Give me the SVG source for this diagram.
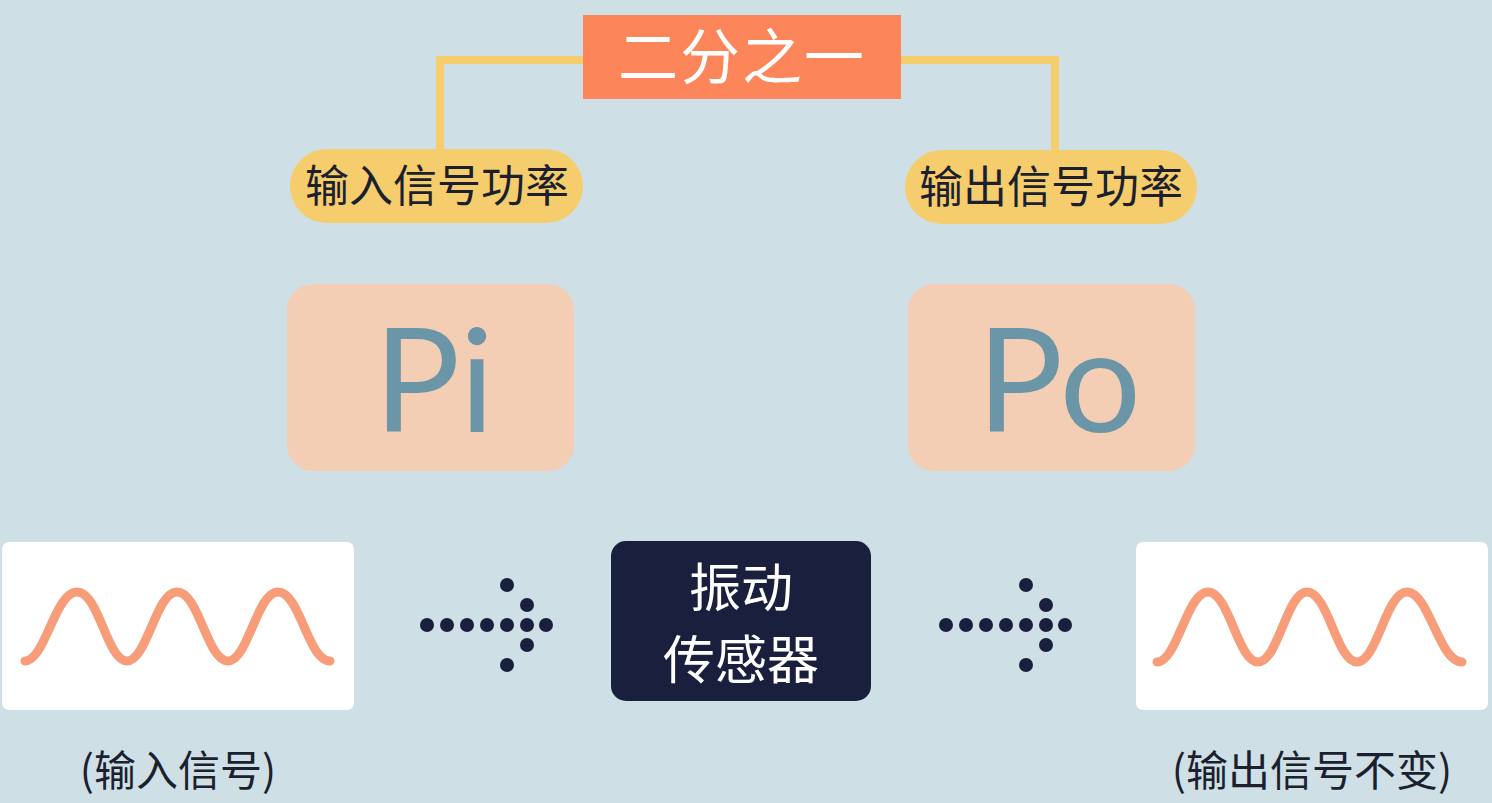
<svg xmlns="http://www.w3.org/2000/svg" width="1492" height="803" viewBox="0 0 1492 803">
<defs>
<style>
.cjk{font-family:"Noto Sans CJK SC","Noto Sans",sans-serif;}
.pill{fill:#f6cd6c;}
.pilltxt{font-size:44px;fill:#1b1f2e;text-anchor:middle;}
.pbox{fill:#f4cdb5;}
.ptxt{font-family:Lato,"Open Sans",sans-serif;font-size:144px;fill:#6b96a8;text-anchor:middle;}
.wbox{fill:#ffffff;}
.wave{fill:none;stroke:#f79d79;stroke-width:9;stroke-linecap:round;}
.dot{fill:#1a1f3d;}
.lbl{font-size:42px;fill:#1b1f2e;text-anchor:middle;}
.conn{fill:none;stroke:#f6cd6c;stroke-width:8;}
</style>
<g id="arrowdots">
<circle class="dot" cx="0" cy="0" r="7"/>
<circle class="dot" cx="20" cy="0" r="7"/>
<circle class="dot" cx="40" cy="0" r="7"/>
<circle class="dot" cx="60" cy="0" r="7"/>
<circle class="dot" cx="80" cy="0" r="7"/>
<circle class="dot" cx="100" cy="0" r="7"/>
<circle class="dot" cx="119" cy="0" r="7"/>
<circle class="dot" cx="80" cy="-40" r="7"/>
<circle class="dot" cx="100" cy="-20" r="7"/>
<circle class="dot" cx="100" cy="20" r="7"/>
<circle class="dot" cx="80" cy="40" r="7"/>
</g>
</defs>
<rect width="1492" height="803" fill="#cedfe6"/>
<g id="connectors">
<polyline class="conn" points="585,60 440,60 440,150"/>
<polyline class="conn" points="899,60 1055,60 1055,152"/>
<use href="#arrowdots" x="427" y="625"/>
<use href="#arrowdots" x="946" y="625"/>
</g>
<g id="half">
<rect x="583" y="15" width="318" height="84" fill="#fd855a"/>
<text class="cjk" x="742" y="79" font-size="60" fill="#ffffff" text-anchor="middle" letter-spacing="2">二分之一</text>
</g>
<g id="input-power">
<rect class="pill" x="290" y="149" width="293" height="74" rx="37"/>
<text class="cjk pilltxt" x="437" y="202">输入信号功率</text>
</g>
<g id="output-power">
<rect class="pill" x="905" y="150" width="292" height="74" rx="37"/>
<text class="cjk pilltxt" x="1051" y="203">输出信号功率</text>
</g>
<g id="pi">
<rect class="pbox" x="287" y="284" width="287" height="187" rx="26"/>
<text class="ptxt" x="434" y="432">Pi</text>
</g>
<g id="po">
<rect class="pbox" x="908" y="284" width="287" height="187" rx="26"/>
<text class="ptxt" x="1059" y="432">Po</text>
</g>
<g id="input-signal">
<rect class="wbox" x="2" y="542" width="352" height="168" rx="7"/>
<path class="wave" d="M25,661 C45,661 55,592 77,592 C99,592 107,661 127,661 C147,661 156,592 177,592 C199,592 207,661 228,661 C248,661 257,592 278,592 C300,592 308,661 330,661"/>
</g>
<g id="sensor">
<rect x="611" y="541" width="260" height="160" rx="15" fill="#1a1f3d"/>
<text class="cjk" x="741" y="607" font-size="52" fill="#ffffff" text-anchor="middle">振动</text>
<text class="cjk" x="741" y="679" font-size="52" fill="#ffffff" text-anchor="middle">传感器</text>
</g>
<g id="output-signal">
<rect class="wbox" x="1136" y="542" width="352" height="168" rx="7"/>
<path class="wave" d="M1157,662 C1177,662 1187,592 1208,592 C1229,592 1238,662 1258,662 C1278,662 1287,592 1307,592 C1328,592 1337,662 1357,662 C1377,662 1386,592 1407,592 C1429,592 1439,662 1462,662"/>
</g>
<g id="input-label">
<text class="cjk lbl" x="178" y="786">(输入信号)</text>
</g>
<g id="output-label">
<text class="cjk lbl" x="1312" y="786">(输出信号不变)</text>
</g>
</svg>
